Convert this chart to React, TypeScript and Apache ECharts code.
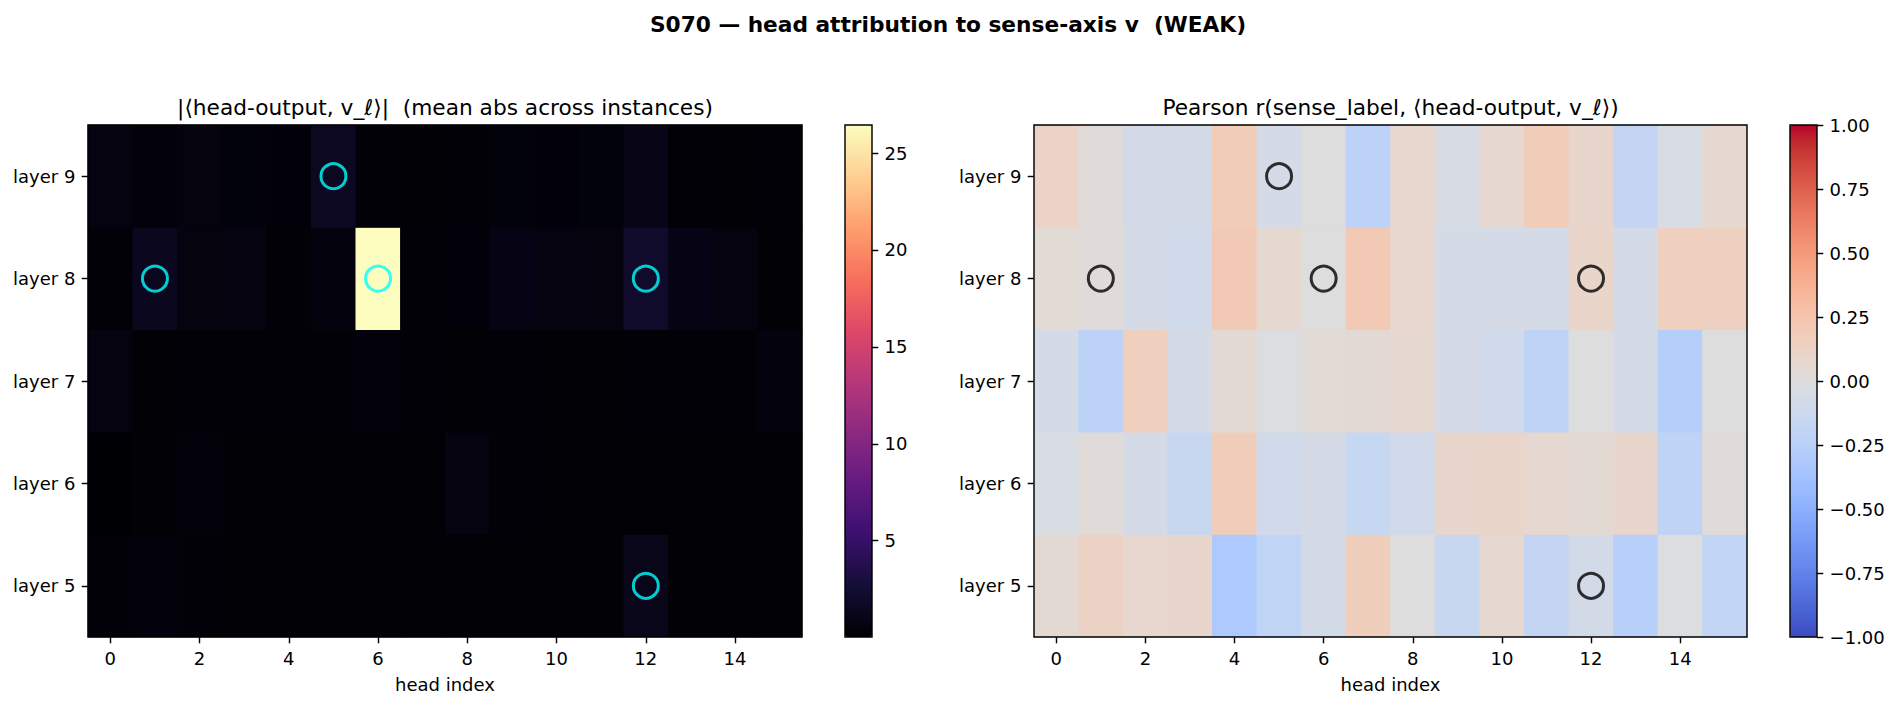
import React, { useEffect, useRef } from "react";
import * as echarts from "echarts";

// ---- categories / tick labels ----
const headLabels = ["0", "1", "2", "3", "4", "5", "6", "7", "8", "9", "10", "11", "12", "13", "14", "15"];
const layerLabels = ["layer 5", "layer 6", "layer 7", "layer 8", "layer 9"];

// ---- mean |<head-output, v_l>| per head (one array per layer) ----
const absLayer5 = [0.2, 0.45, 0.2, 0.15, 0.1, 0.1, 0.15, 0.1, 0.1, 0.15, 0.1, 0.15, 1.2, 0.15, 0.1, 0.1];
const absLayer6 = [0.03, 0.15, 0.4, 0.15, 0.1, 0.15, 0.1, 0.1, 0.6, 0.2, 0.15, 0.15, 0.1, 0.1, 0.1, 0.1];
const absLayer7 = [0.6, 0.15, 0.2, 0.2, 0.25, 0.2, 0.45, 0.2, 0.15, 0.2, 0.15, 0.15, 0.2, 0.2, 0.2, 0.5];
const absLayer8 = [0.25, 1.4, 0.55, 0.6, 0.2, 0.5, 26.45, 0.2, 0.3, 0.85, 0.65, 0.55, 2.1, 0.85, 0.65, 0.15];
const absLayer9 = [0.6, 0.4, 0.55, 0.35, 0.3, 1.6, 0.2, 0.15, 0.2, 0.35, 0.3, 0.35, 1.0, 0.2, 0.15, 0.2];

// ---- Pearson r(sense_label, <head-output, v_l>) per head ----
const corrLayer5 = [0.05, 0.13, 0.08, 0.09, -0.31, -0.2, -0.08, 0.17, 0.0, -0.15, 0.07, -0.18, -0.08, -0.25, -0.01, -0.19];
const corrLayer6 = [-0.04, 0.02, -0.07, -0.15, 0.18, -0.09, -0.07, -0.16, -0.09, 0.09, 0.1, 0.07, 0.05, 0.09, -0.21, 0.02];
const corrLayer7 = [-0.07, -0.22, 0.16, -0.07, 0.05, -0.01, 0.04, 0.05, 0.07, -0.07, -0.09, -0.21, 0.0, -0.07, -0.27, 0.0];
const corrLayer8 = [0.04, 0.02, -0.07, -0.1, 0.21, 0.06, 0.0, 0.21, 0.08, -0.07, -0.06, -0.06, 0.1, -0.07, 0.16, 0.15];
const corrLayer9 = [0.12, 0.02, -0.08, -0.08, 0.19, -0.07, 0.0, -0.22, 0.08, -0.05, 0.07, 0.19, 0.09, -0.18, -0.04, 0.06];

// ---- highlighted (head, layer) pairs ----
const markedHeads = [5, 1, 6, 12, 12];
const markedLayers = [9, 8, 8, 8, 5];

// ---- colour scale ranges and colourbar ticks ----
const absMin = 0.03;
const absMax = 26.45;
const absTicks = [5, 10, 15, 20, 25];
const corrMin = -1;
const corrMax = 1;

const magma = [
  "#000004", "#140e36", "#3b0f70", "#641a80", "#8c2981", "#b73779",
  "#de4968", "#f7705c", "#fe9f6d", "#fecf92", "#fcfdbf",
];
const coolwarm = [
  "#3b4cc0", "#445acc", "#4d68d7", "#5775e1", "#6282ea", "#6c8ef1", "#779af7", "#82a5fb",
  "#8db0fe", "#98b9ff", "#a3c2ff", "#aec9fd", "#b8d0f9", "#c2d5f4", "#ccd9ee", "#d5dbe6",
  "#dddddd", "#e5d8d1", "#ecd3c5", "#f1ccb9", "#f5c4ad", "#f7bba0", "#f7b194", "#f7a687",
  "#f49a7b", "#f18d6f", "#ec7f63", "#e57058", "#de604d", "#d55042", "#cb3e38", "#c0282f",
  "#b40426",
];

const FONT = "DejaVu Sans";
const TICK_FS = 18;
const TITLE_FS = 21.7;
const TICK_LEN = 6.3;
const LABEL_MARGIN = 12.6;

const PLOT_TOP = 125;
const PLOT_H = 512;
const LEFT_X = 88;
const LEFT_W = 714;
const RIGHT_X = 1034;
const RIGHT_W = 713;
const CBAR_W = 27;
const CBAR1_X = 845;
const CBAR2_X = 1790;

function toGrid(rows: number[][]) {
  const out: number[][] = [];
  rows.forEach((row, y) => row.forEach((v, x) => out.push([x, y, v])));
  return out;
}

function markers() {
  return markedHeads.map((h, i) => [h, layerLabels.indexOf("layer " + markedLayers[i])]);
}

const tickLine = { color: "#000", width: 1.44 };
const labelStyle = { color: "#000", fontFamily: FONT, fontSize: TICK_FS };

function frameGrid(left: number, width: number) {
  return {
    left,
    top: PLOT_TOP,
    width,
    height: PLOT_H,
    show: true,
    backgroundColor: "transparent",
    borderColor: "#000",
    borderWidth: 1.44,
    z: 10,
  };
}

function headAxis(gridIndex: number) {
  return {
    type: "category",
    gridIndex,
    data: headLabels,
    axisLine: { show: false },
    axisTick: { show: true, alignWithLabel: true, interval: 1, length: TICK_LEN, lineStyle: tickLine },
    axisLabel: { interval: 1, margin: LABEL_MARGIN, ...labelStyle },
    splitLine: { show: false },
    name: "head index",
    nameLocation: "middle",
    nameGap: 38,
    nameTextStyle: { ...labelStyle },
  };
}

function layerAxis(gridIndex: number) {
  return {
    type: "category",
    gridIndex,
    data: layerLabels,
    axisLine: { show: false },
    axisTick: { show: true, alignWithLabel: true, length: TICK_LEN, lineStyle: tickLine },
    axisLabel: { margin: LABEL_MARGIN, ...labelStyle },
    splitLine: { show: false },
  };
}

function titleText(x: number, y: number, text: string, size: number, weight: string) {
  return {
    type: "text",
    x,
    y,
    z: 20,
    style: {
      text,
      fontFamily: FONT,
      fontSize: size,
      fontWeight: weight,
      fill: "#000",
      align: "center",
      verticalAlign: "middle",
    },
  };
}

export default function App() {
  const ref = useRef<HTMLDivElement>(null);

  useEffect(() => {
    document.body.style.margin = "0";
    if (!ref.current) return;
    const chart = echarts.init(ref.current, null, { renderer: "svg" });

    const option = {
      animation: false,
      backgroundColor: "#ffffff",
      graphic: [
        // backings under each heatmap so cell seams blend in
        {
          type: "rect",
          z: 0,
          silent: true,
          shape: { x: LEFT_X, y: PLOT_TOP, width: LEFT_W, height: PLOT_H },
          style: { fill: "#000004" },
        },
        {
          type: "rect",
          z: 0,
          silent: true,
          shape: { x: RIGHT_X, y: PLOT_TOP, width: RIGHT_W, height: PLOT_H },
          style: { fill: "#dcdcdc" },
        },
        titleText(948, 24.5, "S070 \u2014 head attribution to sense-axis v  (WEAK)", 21.7, "bold"),
        titleText(
          LEFT_X + LEFT_W / 2,
          107,
          "|\u27e8head-output, v_\u2113\u27e9|  (mean abs across instances)",
          TITLE_FS,
          "normal"
        ),
        titleText(
          RIGHT_X + RIGHT_W / 2,
          107,
          "Pearson r(sense_label, \u27e8head-output, v_\u2113\u27e9)",
          TITLE_FS,
          "normal"
        ),
      ],
      grid: [
        frameGrid(LEFT_X, LEFT_W),
        frameGrid(RIGHT_X, RIGHT_W),
        frameGrid(CBAR1_X, CBAR_W),
        frameGrid(CBAR2_X, CBAR_W),
      ],
      xAxis: [
        headAxis(0),
        headAxis(1),
        { type: "category", gridIndex: 2, data: [""], show: false },
        { type: "category", gridIndex: 3, data: [""], show: false },
      ],
      yAxis: [
        layerAxis(0),
        layerAxis(1),
        {
          type: "value",
          gridIndex: 2,
          position: "right",
          min: absMin,
          max: absMax,
          axisLine: { show: false },
          axisTick: { show: true, length: TICK_LEN, lineStyle: tickLine, customValues: absTicks },
          axisLabel: { margin: LABEL_MARGIN, ...labelStyle, customValues: absTicks },
          splitLine: { show: false },
        },
        {
          type: "value",
          gridIndex: 3,
          position: "right",
          min: corrMin,
          max: corrMax,
          interval: 0.25,
          axisLine: { show: false },
          axisTick: { show: true, length: TICK_LEN, lineStyle: tickLine },
          axisLabel: {
            margin: LABEL_MARGIN,
            ...labelStyle,
            formatter: (v: number) => v.toFixed(2).replace("-", "\u2212"),
          },
          splitLine: { show: false },
        },
      ],
      visualMap: [
        {
          type: "continuous",
          seriesIndex: 0,
          min: absMin,
          max: absMax,
          calculable: false,
          orient: "vertical",
          left: CBAR1_X,
          top: PLOT_TOP,
          padding: 0,
          itemWidth: CBAR_W,
          itemHeight: PLOT_H,
          inRange: { color: magma },
          hoverLink: false,
        },
        {
          type: "continuous",
          seriesIndex: 1,
          min: corrMin,
          max: corrMax,
          calculable: false,
          orient: "vertical",
          left: CBAR2_X,
          top: PLOT_TOP,
          padding: 0,
          itemWidth: CBAR_W,
          itemHeight: PLOT_H,
          inRange: { color: coolwarm },
          hoverLink: false,
        },
      ],
      series: [
        {
          type: "heatmap",
          xAxisIndex: 0,
          yAxisIndex: 0,
          data: toGrid([absLayer5, absLayer6, absLayer7, absLayer8, absLayer9]),
          emphasis: { disabled: true },
          progressive: 0,
          z: 2,
        },
        {
          type: "heatmap",
          xAxisIndex: 1,
          yAxisIndex: 1,
          data: toGrid([corrLayer5, corrLayer6, corrLayer7, corrLayer8, corrLayer9]),
          emphasis: { disabled: true },
          progressive: 0,
          z: 2,
        },
        {
          type: "scatter",
          xAxisIndex: 0,
          yAxisIndex: 0,
          data: markers(),
          symbol: "circle",
          symbolSize: 25,
          itemStyle: { color: "rgba(0,0,0,0)", borderColor: "#00ffff", borderWidth: 3 },
          z: 5,
          silent: true,
        },
        {
          type: "scatter",
          xAxisIndex: 1,
          yAxisIndex: 1,
          data: markers(),
          symbol: "circle",
          symbolSize: 25,
          itemStyle: { color: "rgba(0,0,0,0)", borderColor: "#000000", borderWidth: 3 },
          z: 5,
          silent: true,
        },
        { type: "scatter", xAxisIndex: 2, yAxisIndex: 2, data: [] },
        { type: "scatter", xAxisIndex: 3, yAxisIndex: 3, data: [] },
      ],
    };

    chart.setOption(option as any);
    return () => chart.dispose();
  }, []);

  return <div ref={ref} style={{ width: 1896, height: 706 }} />;
}
